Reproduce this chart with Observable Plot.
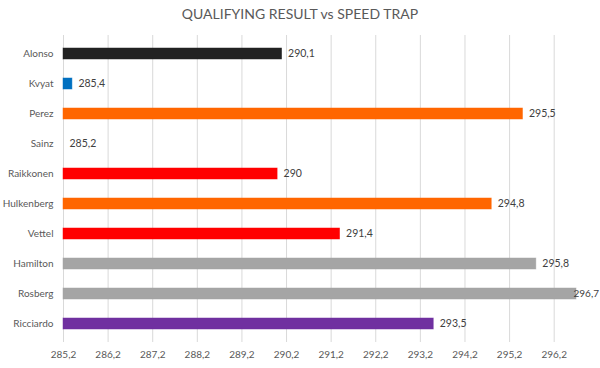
<!DOCTYPE html>
<html>
<head>
<meta charset="utf-8">
<script src="https://cdn.jsdelivr.net/npm/d3@7"></script>
<script src="https://cdn.jsdelivr.net/npm/@observablehq/plot@0.6"></script>
<style>
  html, body { margin: 0; padding: 0; background: #fff; }
  #title { height: 26px; line-height: 28px; text-align: center; font-family: Lato, "Open Sans", sans-serif; font-size: 14px; color: #595959; overflow: hidden; }
  #chart svg { display: block; }
</style>
</head>
<body>
<div id="title">QUALIFYING RESULT vs SPEED TRAP</div>
<div id="chart"></div>
<script>
const drivers = ["Alonso", "Kvyat", "Perez", "Sainz", "Raikkonen", "Hulkenberg", "Vettel", "Hamilton", "Rosberg", "Ricciardo"];
const speeds = [290.1, 285.4, 295.5, 285.2, 290, 294.8, 291.4, 295.8, 296.7, 293.5];
const colors = ["#222222", "#0070C0", "#FF6600", "#FFFFFF", "#FF0000", "#FF6600", "#FF0000", "#A5A5A5", "#A5A5A5", "#7030A0"];
const xTicks = [285.2, 286.2, 287.2, 288.2, 289.2, 290.2, 291.2, 292.2, 293.2, 294.2, 295.2, 296.2];
const xMin = 285.2, xMax = 296.7;

const data = drivers.map((d, i) => ({driver: d, speed: speeds[i], color: colors[i]}));
const fmt = v => String(v).replace(".", ",");
const maxSpeed = d3.max(speeds);

const chart = Plot.plot({
  width: 600,
  height: 342,
  marginTop: 9,
  marginBottom: 26,
  marginLeft: 63,
  marginRight: 24,
  style: {fontFamily: "Lato, 'Open Sans', sans-serif", fontSize: "10px", color: "#595959", background: "#fff"},
  x: {domain: [xMin, xMax], ticks: xTicks, tickFormat: fmt, tickSize: 0, tickPadding: 8, label: null},
  y: {domain: drivers, paddingInner: 0.62, paddingOuter: 0.31, tickSize: 0, tickPadding: 10, label: null},
  marks: [
    Plot.ruleX(xTicks, {stroke: "#D9D9D9", strokeWidth: 1}),
    Plot.barX(data, {x1: xMin, x2: "speed", y: "driver", fill: "color", stroke: "color", strokeOpacity: 0.6, strokeWidth: 0.8}),
    Plot.text(data.filter(d => d.speed !== maxSpeed), {x: "speed", y: "driver", text: d => fmt(d.speed), textAnchor: "start", dx: 6, fill: "#404040", fontSize: 10.5}),
    Plot.text(data.filter(d => d.speed === maxSpeed), {x: "speed", y: "driver", text: d => fmt(d.speed), textAnchor: "start", dx: -3, fill: "#404040", fontSize: 10}),
    Plot.axisX({ticks: xTicks, tickFormat: fmt, tickSize: 0, tickPadding: 8, fill: "#595959", fontSize: 10}),
    Plot.axisY({tickSize: 0, tickPadding: 10, fill: "#595959", fontSize: 10})
  ]
});
document.getElementById("chart").appendChild(chart);
</script>
</body>
</html>
